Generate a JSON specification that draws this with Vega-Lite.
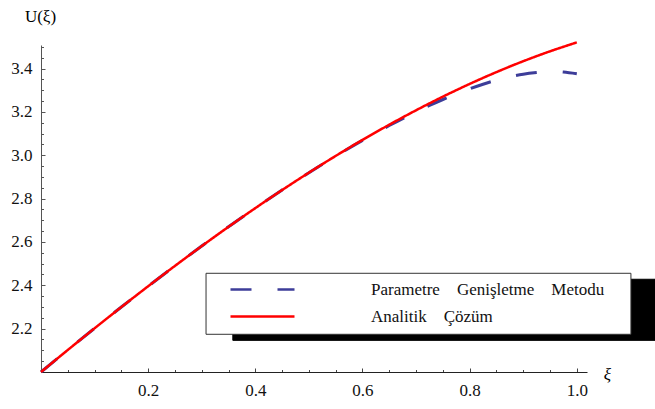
{
  "$schema": "https://vega.github.io/schema/vega-lite/v6.json",
  "width": 546,
  "height": 327,
  "autosize": {"type": "none"},
  "padding": {"left": 41, "top": 45, "right": 68, "bottom": 37},
  "background": "white",
  "config": {
    "view": {"stroke": null},
    "font": "Liberation Serif"
  },
  "datasets": {
    "curves": [
      {"series": "Parametre Genişletme Metodu", "x": 0, "y": 2.0},
      {"series": "Parametre Genişletme Metodu", "x": 0.05, "y": 2.1017},
      {"series": "Parametre Genişletme Metodu", "x": 0.1, "y": 2.2017},
      {"series": "Parametre Genişletme Metodu", "x": 0.15, "y": 2.2998},
      {"series": "Parametre Genişletme Metodu", "x": 0.2, "y": 2.3958},
      {"series": "Parametre Genişletme Metodu", "x": 0.25, "y": 2.4897},
      {"series": "Parametre Genişletme Metodu", "x": 0.3, "y": 2.5811},
      {"series": "Parametre Genişletme Metodu", "x": 0.35, "y": 2.6701},
      {"series": "Parametre Genişletme Metodu", "x": 0.4, "y": 2.7563},
      {"series": "Parametre Genişletme Metodu", "x": 0.45, "y": 2.8396},
      {"series": "Parametre Genişletme Metodu", "x": 0.5, "y": 2.9196},
      {"series": "Parametre Genişletme Metodu", "x": 0.55, "y": 2.9962},
      {"series": "Parametre Genişletme Metodu", "x": 0.6, "y": 3.069},
      {"series": "Parametre Genişletme Metodu", "x": 0.65, "y": 3.1373},
      {"series": "Parametre Genişletme Metodu", "x": 0.7, "y": 3.2005},
      {"series": "Parametre Genişletme Metodu", "x": 0.725, "y": 3.2299},
      {"series": "Parametre Genişletme Metodu", "x": 0.75, "y": 3.2575},
      {"series": "Parametre Genişletme Metodu", "x": 0.775, "y": 3.2833},
      {"series": "Parametre Genişletme Metodu", "x": 0.8, "y": 3.3069},
      {"series": "Parametre Genişletme Metodu", "x": 0.825, "y": 3.3281},
      {"series": "Parametre Genişletme Metodu", "x": 0.85, "y": 3.3466},
      {"series": "Parametre Genişletme Metodu", "x": 0.875, "y": 3.362},
      {"series": "Parametre Genişletme Metodu", "x": 0.9, "y": 3.3738},
      {"series": "Parametre Genişletme Metodu", "x": 0.925, "y": 3.3816},
      {"series": "Parametre Genişletme Metodu", "x": 0.95, "y": 3.387},
      {"series": "Parametre Genişletme Metodu", "x": 0.975, "y": 3.384},
      {"series": "Parametre Genişletme Metodu", "x": 1.0, "y": 3.376},
      {"series": "Analitik Çözüm", "x": 0, "y": 2.0},
      {"series": "Analitik Çözüm", "x": 0.05, "y": 2.1017},
      {"series": "Analitik Çözüm", "x": 0.1, "y": 2.2017},
      {"series": "Analitik Çözüm", "x": 0.15, "y": 2.2998},
      {"series": "Analitik Çözüm", "x": 0.2, "y": 2.3958},
      {"series": "Analitik Çözüm", "x": 0.25, "y": 2.4897},
      {"series": "Analitik Çözüm", "x": 0.3, "y": 2.5811},
      {"series": "Analitik Çözüm", "x": 0.35, "y": 2.6701},
      {"series": "Analitik Çözüm", "x": 0.4, "y": 2.7563},
      {"series": "Analitik Çözüm", "x": 0.45, "y": 2.8397},
      {"series": "Analitik Çözüm", "x": 0.5, "y": 2.92},
      {"series": "Analitik Çözüm", "x": 0.55, "y": 2.9972},
      {"series": "Analitik Çözüm", "x": 0.6, "y": 3.071},
      {"series": "Analitik Çözüm", "x": 0.65, "y": 3.1412},
      {"series": "Analitik Çözüm", "x": 0.7, "y": 3.2078},
      {"series": "Analitik Çözüm", "x": 0.75, "y": 3.2706},
      {"series": "Analitik Çözüm", "x": 0.8, "y": 3.3293},
      {"series": "Analitik Çözüm", "x": 0.85, "y": 3.3839},
      {"series": "Analitik Çözüm", "x": 0.9, "y": 3.4342},
      {"series": "Analitik Çözüm", "x": 0.95, "y": 3.4799},
      {"series": "Analitik Çözüm", "x": 1.0, "y": 3.521}
    ],
    "boxes": [
      {"part": "shadow", "x0": 0.358, "x1": 1.146, "y0": 2.146, "y1": 2.428},
      {"part": "frame", "x0": 0.308, "x1": 1.101, "y0": 2.174, "y1": 2.4555}
    ]
  },
  "resolve": {"axis": {"x": "independent", "y": "independent"}},
  "layer": [
    {
      "data": {"name": "boxes"},
      "mark": {"type": "rect", "strokeWidth": 1},
      "encoding": {
        "x": {
          "field": "x0", "type": "quantitative",
          "scale": {"domain": [0, 1.019], "nice": false, "zero": false},
          "axis": {"orient": "bottom", "values": [0.05, 0.1, 0.15, 0.25, 0.3, 0.35, 0.45, 0.5, 0.55, 0.65, 0.7, 0.75, 0.85, 0.9, 0.95], "labels": false, "domain": false, "grid": false, "tickSize": -2.5, "tickColor": "#444", "title": null}
        },
        "x2": {"field": "x1"},
        "y": {
          "field": "y0", "type": "quantitative",
          "scale": {"domain": [2, 3.509], "nice": false, "zero": false},
          "axis": {"orient": "left", "values": [2.05, 2.1, 2.15, 2.25, 2.3, 2.35, 2.45, 2.5, 2.55, 2.65, 2.7, 2.75, 2.85, 2.9, 2.95, 3.05, 3.1, 3.15, 3.25, 3.3, 3.35, 3.45, 3.5], "labels": false, "domain": false, "grid": false, "tickSize": -2.5, "tickColor": "#555", "title": null}
        },
        "y2": {"field": "y1"},
        "fill": {"field": "part", "type": "nominal", "scale": {"domain": ["shadow", "frame"], "range": ["black", "white"]}, "legend": null},
        "stroke": {"field": "part", "type": "nominal", "scale": {"domain": ["shadow", "frame"], "range": ["black", "#333"]}, "legend": null}
      }
    },
    {
      "data": {"name": "curves"},
      "transform": [{"filter": "datum.series == 'Parametre Genişletme Metodu'"}],
      "mark": {"type": "line", "interpolate": "monotone"},
      "encoding": {
        "x": {
          "field": "x", "type": "quantitative",
          "axis": {"orient": "bottom", "values": [0.2, 0.4, 0.6, 0.8, 1.0], "format": ".1f", "grid": false, "tickSize": -4, "tickColor": "#444", "domainColor": "#222", "labelFont": "Liberation Serif", "labelFontSize": 17, "labelColor": "#111", "labelPadding": 14, "title": "ξ", "titleFont": "Liberation Serif", "titleFontStyle": "italic", "titleFontWeight": "normal", "titleFontSize": 17, "titleX": 566, "titleY": 2, "titleBaseline": "middle", "titleAlign": "center"}
        },
        "y": {
          "field": "y", "type": "quantitative",
          "axis": {"orient": "left", "values": [2.2, 2.4, 2.6, 2.8, 3.0, 3.2, 3.4], "format": ".1f", "grid": false, "tickSize": -4, "tickColor": "#555", "domainColor": "#555", "labelFont": "Liberation Serif", "labelFontSize": 17, "labelColor": "#111", "labelPadding": 13, "title": "U(ξ)", "titleFont": "Liberation Serif", "titleFontWeight": "normal", "titleFontSize": 17, "titleAngle": 0, "titleX": -1, "titleY": -29, "titleBaseline": "middle", "titleAlign": "center"}
        },
        "color": {
          "field": "series", "type": "nominal",
          "scale": {"domain": ["Parametre Genişletme Metodu", "Analitik Çözüm"], "range": ["#3d3d99", "#ff0000"]},
          "legend": {
            "title": null, "orient": "none", "legendX": 188, "legendY": 235,
            "fillColor": null, "strokeColor": null, "padding": 0,
            "symbolType": "M-4,0H4", "symbolSize": 256, "symbolOffset": 24,
            "symbolStrokeWidth": 2.5,
            "labelFont": "Liberation Serif",
            "labelFontSize": 17, "labelColor": "#111", "labelOffset": 99, "labelLimit": 0,
            "rowPadding": 9,
            "labelExpr": "datum.label == 'Analitik Çözüm' ? 'Analitik\u00a0\u00a0\u00a0\u00a0Çözüm' : 'Parametre\u00a0\u00a0\u00a0\u00a0Genişletme\u00a0\u00a0\u00a0\u00a0Metodu'"
          }
        },
        "strokeDash": {
          "field": "series", "type": "nominal",
          "scale": {"domain": ["Parametre Genişletme Metodu", "Analitik Çözüm"], "range": [[21, 26], [1, 0]]}
        },
        "strokeWidth": {
          "field": "series", "type": "nominal",
          "scale": {"type": "ordinal", "domain": ["Parametre Genişletme Metodu", "Analitik Çözüm"], "range": [3, 2]},
          "legend": null
        }
      }
    },
    {
      "data": {"name": "curves"},
      "transform": [{"filter": "datum.series == 'Analitik Çözüm'"}],
      "mark": {"type": "line", "interpolate": "monotone"},
      "encoding": {
        "x": {"field": "x", "type": "quantitative", "axis": null},
        "y": {"field": "y", "type": "quantitative", "axis": null},
        "color": {"field": "series", "type": "nominal"},
        "strokeDash": {"field": "series", "type": "nominal"},
        "strokeWidth": {"field": "series", "type": "nominal", "legend": null}
      }
    }
  ]
}
